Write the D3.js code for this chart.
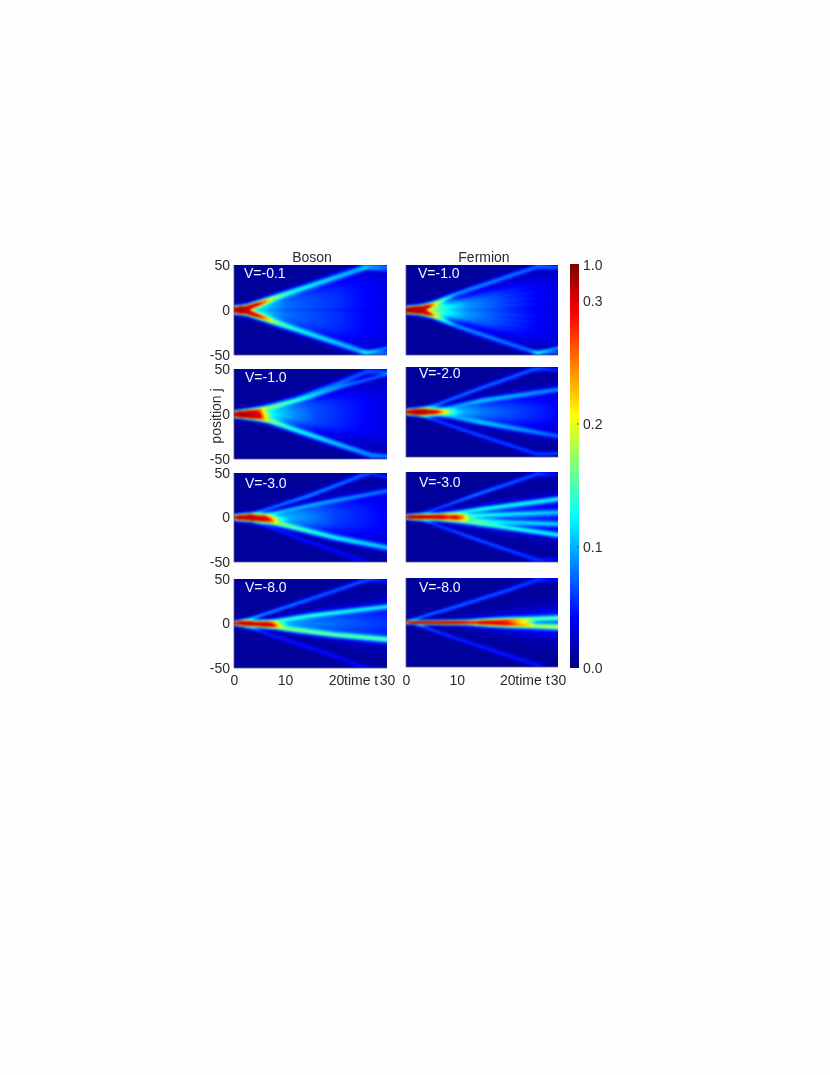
<!DOCTYPE html>
<html><head><meta charset="utf-8">
<script src="https://cdn.jsdelivr.net/npm/d3@7"></script>
<style>
html,body{margin:0;padding:0;background:#fefefe}
#wrap{position:relative;width:830px;height:1075px;overflow:hidden}
canvas,svg{position:absolute;left:0;top:0}
text{font-family:"Liberation Sans",Arial,sans-serif;font-size:14px;fill:#2b2b2b}
</style></head><body><div id="wrap"><canvas id="c" width="830" height="1075"></canvas><svg id="s" width="830" height="1075"></svg></div>
<script>
// A ridge is a list of [time, position, density, width].
// A fill is a list of [time, position low, position high, density].
const colTitles=["Boson","Fermion"];
const panelLabels=["V=-0.1","V=-1.0","V=-1.0","V=-2.0","V=-3.0","V=-3.0","V=-8.0","V=-8.0"];
const xTicks=[0,10,20,30];
const yTicks=[-50,0,50];
const barTicks=[0,0.1,0.2,0.3,1];

const ridgesB1=[
 [[0,1.5,.25,1.5],[1,1.5,.4,1.5],[2.5,2.5,.32,1.6],[3.5,4.5,.27,1.7],[5,7.5,.19,1.8],[8,14,.115,2],[12,21.5,.085,2.1],[20,36.5,.07,2.2],[25,46,.065,2.3],[26.5,48,.05,2.2],[30,47.5,.05,1.4]],
 [[0,-1.5,.25,1.5],[1,-1.5,.4,1.5],[2.5,-2.5,.32,1.6],[3.5,-4.5,.27,1.7],[5,-7.5,.19,1.8],[8,-14,.115,2],[12,-21.5,.085,2.1],[20,-36.5,.07,2.2],[25,-46,.065,2.3],[26.5,-48,.05,2.2],[30,-47.5,.05,1.4]],
 [[26,-47,.03,1.3],[30,-42,.05,1.1]],[[26,47,.02,1.3],[30,43,.025,1.1]]];
const fillB1=[[0,-3,3,.08],[3,-6,6,.09],[10,-16,16,.058],[20,-32,32,.044],[26,-42,42,.03],[30,-44,44,.024]];
const fringesB1=[6,12,18,24,30,36,42,-6,-12,-18,-24,-30,-36,-42];

const ridgesF1=[
 [[0,1.2,.25,1.4],[1,1.2,.42,1.4],[2.5,1.8,.36,1.5],[3.5,3,.24,1.6],[5,6,.13,1.7],[10,18,.06,1.8],[20,37,.052,1.9],[26,48,.05,1.8],[30,47,.045,1.3]],
 [[0,-1.2,.25,1.4],[1,-1.2,.42,1.4],[2.5,-1.8,.36,1.5],[3.5,-3,.24,1.6],[5,-6,.13,1.7],[10,-18,.06,1.8],[20,-37,.052,1.9],[26,-48,.05,1.8],[30,-47,.045,1.3]],
 [[26,-47,.04,1.3],[30,-42,.06,1.1]]];
const fillF1=[[0,-3,3,.08],[4,-5,5,.15],[6,-7,7,.13],[8,-9,9,.105],[12,-15,15,.075],[20,-28,28,.048],[26,-38,38,.03],[30,-42,42,.024]];
const fringesF1=[8,16,24,32,40,-8,-16,-24,-32,-40];

const ridgesB2=[
 [[0,-.5,.3,1.5],[1,-.5,.5,1.6],[3,-.5,.42,1.9],[4.5,-.5,.18,2.1],[6,-.5,.07,2.2]],
 [[1,2,.08,1.4],[5,5,.13,1.8],[7,8,.085,1.9],[12,16,.06,2.1],[20,33,.05,2.1],[26,47,.045,2.2],[30,47,.04,1.5]],
 [[8,8,.02,1.3],[14,17,.04,1.4],[22,32,.05,1.4],[30,44,.045,1.3]],
 [[1,-2,.1,1.4],[5,-5,.15,1.8],[7,-8,.11,1.9],[10,-14,.095,2],[20,-33,.075,2.1],[27,-46,.06,2.2],[30,-47,.06,1.5]]];
const fillB2=[[0,-3,3,.05],[5,-5,5,.1],[8,-8,8,.11],[12,-13,13,.08],[16,-19,19,.058],[25,-30,30,.035],[30,-36,36,.024]];
const fringesB2=[];

const ridgesF2=[
 [[0,0,.3,1.4],[1,0,.48,1.5],[3.5,0,.44,1.8],[5,0,.26,2],[7,0,.11,2.3],[9,0,.03,2.6]],
 [[2,2,.05,1.3],[6,8,.055,1.4],[14,25,.055,1.5],[25,47,.05,1.7],[27,48,.045,1.3],[30,46,.035,1.2]],
 [[8,5,.02,1.5],[15,13,.06,1.7],[30,25,.05,1.9]],
 [[8,-5,.02,1.5],[15,-12,.06,1.7],[22,-19,.055,1.8],[30,-27,.042,1.9]],
 [[2,-2,.04,1.3],[14,-25,.045,1.5],[26,-47,.04,1.7],[30,-46,.045,1.2]]];
const fillF2=[[0,-2,2,.05],[5,-3,3,.11],[8,-4,4,.125],[10,-6,6,.11],[15,-10,10,.08],[30,-20,20,.036]];
const fringesF2=[];

const ridgesB3=[
 [[0,0,.28,1.4],[1,0,.45,1.6],[3.5,0,.42,1.8],[5,-.5,.24,2],[7,-1,.11,2.2],[9,-2,.03,1.8]],
 [[3,-2,.06,1.3],[7,-5,.12,1.8],[10,-9,.105,1.9],[15,-16,.09,1.9],[20,-23,.082,2],[30,-34,.07,2.1]],
 [[6,3,.04,1.4],[15,14,.045,1.4],[30,30,.045,1.6]],
 [[3,3,.05,1.3],[15,25,.06,1.6],[25,47,.05,1.8],[27,49,.04,1.3],[30,45,.035,1.2]],
 [[5,-7,.03,1.4],[15,-28,.028,1.6],[25,-48,.025,1.8]]];
const fillB3=[[0,-3,3,.05],[6,-4,4,.1],[10,-7,7,.1],[20,-18,20,.055],[30,-28,28,.032]];
const fringesB3=[];

const ridgesF3=[
 [[0,0,.3,1.2],[1,0,.48,1.3],[4,0,.44,1.4],[5.5,0,.27,1.7],[8,0,.16,2.1],[11,0,.08,2.2]],
 [[3,3,.04,1.1],[14,25,.06,1.4],[26,48,.045,1.6],[30,47,.025,1.3]],
 [[3,-3,.04,1.1],[14,-25,.05,1.4],[26,-48,.04,1.6],[30,-47,.025,1.3]],
 [[6,2,.03,1.3],[15,9,.075,1.6],[30,20,.08,1.8]],
 [[6,-2,.03,1.3],[15,-8,.08,1.6],[30,-20,.08,1.8]],
 [[10,1,.05,1.3],[20,3,.05,1.5],[30,5,.05,1.7]],
 [[10,-2,.05,1.3],[20,-6,.05,1.5],[30,-8,.055,1.7]]];
const fillF3=[[0,-2,2,.04],[6,-3,3,.09],[10,-6,5,.09],[20,-11,11,.062],[30,-18,18,.042]];
const fringesF3=[];

const ridgesB4=[
 [[0,0,.25,1.1],[1.5,0,.42,1.4],[3,0,.42,1.6],[4.5,-.5,.29,1.9],[6.5,-1,.19,2.1],[9,-1.5,.05,1.9]],
 [[5,-2,.05,1.3],[7,-3,.09,1.6],[10,-6,.1,1.7],[20,-13,.095,1.8],[30,-18,.095,2]],
 [[6,1.5,.03,1.4],[8,3,.06,1.5],[15,9,.07,1.6],[30,19,.07,1.7]],
 [[0,1,.06,1],[3,5,.07,1.2],[10,18,.058,1.5],[20,37,.05,1.6],[25,47,.048,1.7],[27,49,.042,1.4],[30,47,.03,1.3]],
 [[3,-5,.04,1.1],[10,-18,.03,1.5],[20,-37,.027,1.6],[26,-50,.027,1.6]]];
const fillB4=[[0,-2,2,.04],[6,-2.5,2.5,.1],[8,-3,3,.115],[15,-9,9,.085],[30,-18,18,.055]];
const fringesB4=[];

const ridgesF4=[
 [[0,0,.28,.8],[1,0,.38,.9],[3,0,.5,1],[10,0,.45,1.1],[12,0,.29,1.3],[14,0,.23,1.6],[17,0,.18,2],[20,0,.13,2.3],[24,0,.06,2.4]],
 [[15,2,.03,1.3],[20,3,.08,1.5],[30,5,.085,1.7]],
 [[15,-2,.04,1.3],[20,-3,.1,1.5],[30,-5,.12,1.7]],
 [[0,1,.06,1],[10,18,.055,1.4],[20,36,.048,1.6],[26,48,.04,1.7],[30,47,.022,1.3]],
 [[3,-4,.05,1.1],[10,-18,.036,1.4],[26,-48,.03,1.7]]];
const fillF4=[[0,-1,1,.03],[10,-2,2,.06],[20,-5,5,.085],[30,-9,9,.08]];
const fringesF4=[];

const ridgeSets=[ridgesB1,ridgesF1,ridgesB2,ridgesF2,ridgesB3,ridgesF3,ridgesB4,ridgesF4];
const fillSets=[fillB1,fillF1,fillB2,fillF2,fillB3,fillF3,fillB4,fillF4];
const fringeSets=[fringesB1,fringesF1,fringesB2,fringesF2,fringesB3,fringesF3,fringesB4,fringesF4];

// Layout
const frames=[[234,387,265,355],[406,558,265,355],[234,387,369,459],[406,558,367,457],
              [234,387,473,562],[406,558,472,562],[234,387,579,668],[406,558,578,667]];
const labelAt=[[244,278],[418,278],[245,382],[419,378],[245,488],[419,487],[245,592],[419,592]];

// jet colormap through a piecewise density axis
const jetPos=d3.scaleLinear().domain(barTicks).range([0,.2995,.604,.9109,1]).clamp(true);
const ramp=d3.scaleLinear().domain([0,.125,.375,.625,.875,1])
  .range(["#000080","#0000ff","#00ffff","#ffff00","#ff0000","#800000"]).clamp(true);
const color=v=>d3.rgb(ramp(jetPos(v)));

function along(r,t){
  if(t<r[0][0]||t>r[r.length-1][0]){
    const p=t<r[0][0]?r[0]:r[r.length-1];
    const d=t<r[0][0]?r[0][0]-t:t-p[0];
    return {c:p[1],a:p[2]*Math.exp(-d*d/1.2),w:p[3]};
  }
  let i=0;while(i<r.length-2&&t>r[i+1][0])i++;
  const u=(t-r[i][0])/(r[i+1][0]-r[i][0]);
  return {c:r[i][1]+u*(r[i+1][1]-r[i][1]),a:r[i][2]+u*(r[i+1][2]-r[i][2]),w:r[i][3]+u*(r[i+1][3]-r[i][3])};
}
function fillAt(f,t){
  let i=0;while(i<f.length-2&&t>f[i+1][0])i++;
  const u=Math.min(1,(t-f[i][0])/(f[i+1][0]-f[i][0]));
  const m=k=>f[i][k]+u*(f[i+1][k]-f[i][k]);
  return {lo:m(1),hi:m(2),a:m(3)};
}
function density(n,t,j){
  let v=.009;
  for(const r of ridgeSets[n]){
    const q=along(r,t);
    const a=q.a*(1+.4*Math.max(0,1-q.a/.3));
    const w=q.w*(1.35-.22*Math.max(0,1-q.a/.2));
    const d=(j-q.c)/w;
    v+=a*Math.exp(-.5*d*d);
  }
  const f=fillAt(fillSets[n],t);
  const e=Math.max(1.4,t*.22);
  const s=x=>1/(1+Math.exp(-x));
  const body=s((j-f.lo)/e)*s((f.hi-j)/e);
  v+=f.a*body;
  for(const end of fringeSets[n]){
    const c=end*t/30;const d=(j-c)/1.0;
    v+=f.a*.18*body*Math.exp(-.5*d*d)*Math.min(1,t/6);
  }
  return v;
}

const ctx=document.getElementById("c").getContext("2d");
ctx.fillStyle="#fefefe";ctx.fillRect(0,0,830,1075);
const svg=d3.select("#s");

frames.forEach((fr,n)=>{
  const [x0,x1,y0,y1]=fr;
  const x=d3.scaleLinear().domain([0,30]).range([x0,x1]);
  const y=d3.scaleLinear().domain([-50,50]).range([y1,y0]);
  const w=x1-x0,h=y1-y0;
  const off=document.createElement("canvas");off.width=w;off.height=h;
  const oc=off.getContext("2d");
  const img=oc.createImageData(w,h);
  for(let py=0;py<h;py++)for(let px=0;px<w;px++){
    const c=color(density(n,x.invert(x0+px+.5),y.invert(y0+py+.5)));
    const k=(py*w+px)*4;
    img.data[k]=c.r;img.data[k+1]=c.g;img.data[k+2]=c.b;img.data[k+3]=255;
  }
  oc.putImageData(img,0,0);
  ctx.save();
  ctx.beginPath();ctx.rect(x0,y0,w,h);ctx.clip();
  ctx.drawImage(off,x0,y0);            // opaque base so blurred edges stay filled
  ctx.filter="blur(0.9px)";
  ctx.drawImage(off,x0,y0);
  ctx.restore();

  const g=svg.append("g");
  g.append("path").attr("d",`M${x0},${y0}V${y1}H${x1}`).attr("fill","none").attr("stroke","#5a6078").attr("stroke-width",.8);
  if(n%2===0){
    const ya=g.append("g").attr("transform",`translate(${x0},0)`)
      .call(d3.axisLeft(y).tickValues(yTicks).tickFormat(d=>String(d)).tickSize(0).tickPadding(4));
    ya.select(".domain").remove();
    ya.selectAll("text").style("font-size","14px").attr("fill",null);
  }
  if(n>=6){
    const xa=g.append("g").attr("transform",`translate(0,${y1})`)
      .call(d3.axisBottom(x).tickValues(xTicks).tickFormat(d=>String(d)).tickSize(0).tickPadding(685-y1-10));
    xa.select(".domain").remove();
    xa.selectAll("text").style("font-size","14px").attr("fill",null);
    g.append("text").attr("x",x(20)+8).attr("y",685).text("time t");
  }
  g.append("text").attr("x",labelAt[n][0]).attr("y",labelAt[n][1]).style("fill","#f2f6ff").text(panelLabels[n]);
});

svg.append("text").attr("x",312).attr("y",262).attr("text-anchor","middle").text(colTitles[0]);
svg.append("text").attr("x",484).attr("y",262).attr("text-anchor","middle").text(colTitles[1]);
svg.append("text").attr("transform","translate(221,416) rotate(-90)").attr("text-anchor","middle").text("position j");

// colour bar
const bx0=570,bx1=579,by0=264,by1=668;
const by=d3.scaleLinear().domain(barTicks).range([668,547,424,301,265]);
for(let py=by0;py<by1;py++){
  const f=(by1-py-.5)/(by1-by0);
  ctx.fillStyle=ramp(f);ctx.fillRect(bx0,py,bx1-bx0,1);
}
barTicks.forEach(v=>{
  const yy=by(v);
  if(v>0&&v<1)svg.append("line").attr("x1",bx1-2).attr("x2",bx1).attr("y1",yy).attr("y2",yy).attr("stroke","#333").attr("stroke-width",.8);
  svg.append("text").attr("x",583).attr("y",yy).attr("dy","0.36em").text(d3.format(".1f")(v));
});
</script></body></html>
